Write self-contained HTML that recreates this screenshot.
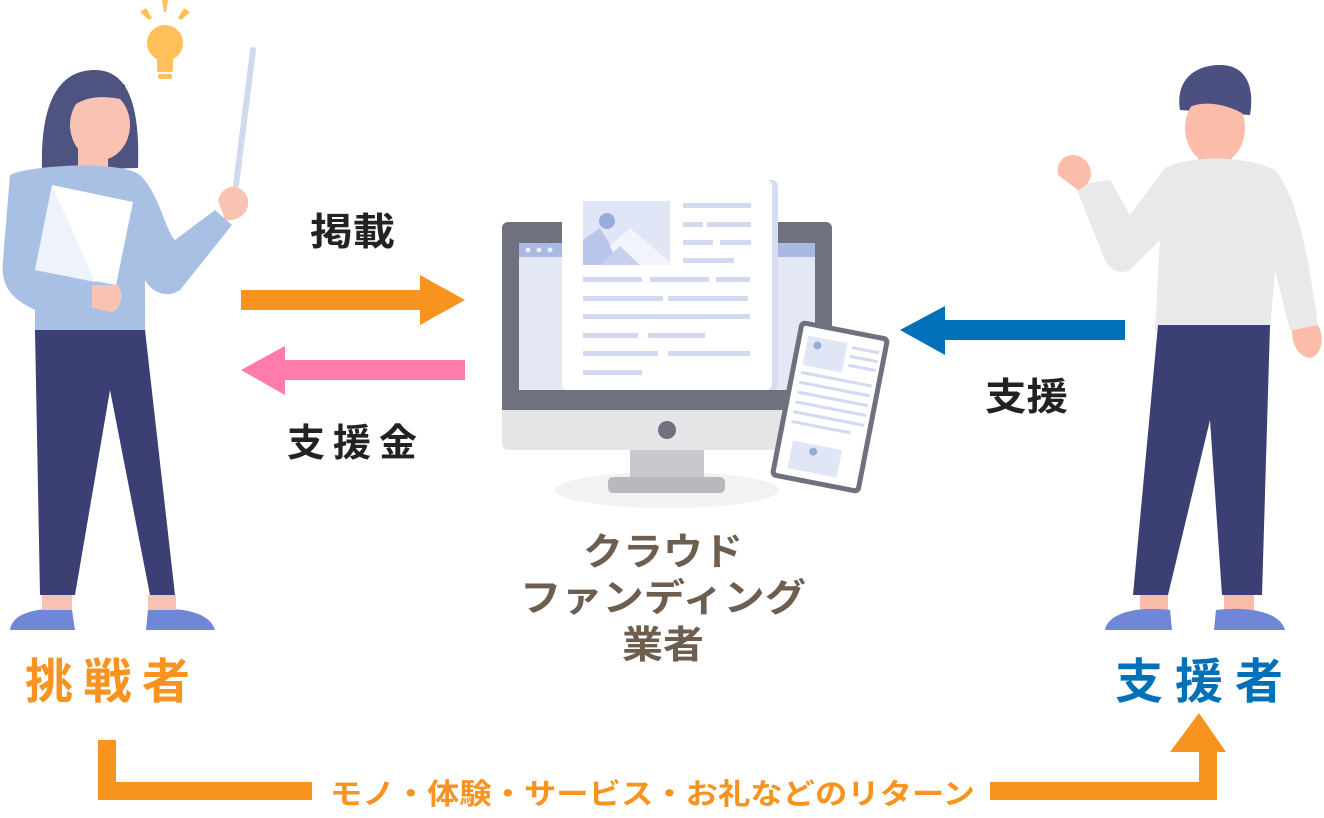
<!DOCTYPE html>
<html><head><meta charset="utf-8"><style>
html,body{margin:0;padding:0;background:#fff}
svg{display:block}
text{font-family:"Liberation Sans","Noto Sans CJK JP",sans-serif;font-weight:bold}
</style></head><body>
<svg width="1324" height="818" viewBox="0 0 1324 818" xmlns="http://www.w3.org/2000/svg">
<!-- bulb -->
<g fill="#ffbf5a">
<circle cx="165" cy="43" r="18"/><rect x="157" y="50" width="16" height="20"/>
<rect x="157" y="67" width="16" height="5" rx="2"/><rect x="158" y="74" width="14" height="5" rx="2"/>
<polygon points="162,0 168,0 166,12 164,12"/><polygon points="140,12 146,8 152,18 149,20"/><polygon points="184,8 190,12 181,20 178,18"/>
</g>
<!-- woman -->
<line x1="253" y1="50" x2="236" y2="185" stroke="#d0d9ee" stroke-width="6" stroke-linecap="round"/>
<path d="M42,170 C40,100 60,70 95,70 C130,70 140,110 138,168 Z" fill="#4f5380"/>
<ellipse cx="100" cy="125" rx="30" ry="35" fill="#f8c3b3"/>
<rect x="78" y="140" width="30" height="30" fill="#f8c3b3"/>
<path d="M68,112 C80,95 105,95 125,100 L125,85 C105,70 75,75 68,95 Z" fill="#4f5380"/>
<path d="M10,175 C30,165 120,160 140,175 C160,195 165,230 175,240 L215,210 L232,225 L180,290 C165,300 150,290 145,280 L145,330 L35,330 L35,310 C15,300 0,290 3,260 Z" fill="#a7c0e3"/>
<path d="M218,200 C225,180 245,185 248,200 C250,215 235,222 225,220 Z" fill="#f8c3b3"/>
<polygon points="52,185 133,202 116,285 35,270" fill="#fff"/>
<polygon points="52,185 95,282 35,270" fill="#edf2fb"/>
<path d="M92,285 L118,285 C125,295 120,312 110,312 L92,308 Z" fill="#f8c3b3"/>
<path d="M35,330 L145,330 L175,595 L150,595 L110,390 L75,595 L40,595 Z" fill="#3b3f73"/>
<path d="M10,630 C12,612 40,606 72,610 L75,630 Z" fill="#6f87d6"/>
<path d="M148,610 C180,606 210,612 215,630 L146,630 Z" fill="#6f87d6"/>
<rect x="42" y="595" width="30" height="15" fill="#f8c3b3"/><rect x="148" y="595" width="28" height="15" fill="#f8c3b3"/>
<!-- man -->
<path d="M1180,110 C1175,80 1195,65 1220,65 C1245,65 1255,85 1250,115 Z" fill="#4b5080"/>
<ellipse cx="1215" cy="128" rx="30" ry="36" fill="#fbbcaa"/>
<rect x="1198" y="145" width="34" height="20" fill="#fbbcaa"/>
<path d="M1185,110 C1200,98 1230,105 1245,115 L1250,95 C1235,78 1200,80 1185,95 Z" fill="#4b5080"/>
<path d="M1075,185 L1110,180 L1130,215 L1165,168 C1190,155 1245,155 1275,170 C1300,200 1310,270 1318,325 L1290,330 L1275,270 L1270,330 C1230,335 1190,335 1155,330 L1160,240 L1130,270 C1120,275 1110,270 1105,260 Z" fill="#e9e9eb"/>
<path d="M1058,175 C1055,155 1075,150 1085,160 C1095,170 1092,185 1078,190 Z" fill="#fbbcaa"/>
<path d="M1292,330 L1318,325 C1325,338 1322,355 1310,358 C1298,356 1292,345 1292,330 Z" fill="#fbbcaa"/>
<path d="M1158,325 L1270,325 L1262,595 L1222,595 L1210,420 L1168,595 L1133,595 Z" fill="#3b3f73"/>
<rect x="1140" y="595" width="28" height="15" fill="#fbbcaa"/><rect x="1224" y="595" width="30" height="15" fill="#fbbcaa"/>
<path d="M1105,630 C1108,612 1140,606 1170,610 L1172,630 Z" fill="#6f87d6"/>
<path d="M1216,610 C1250,606 1280,612 1285,630 L1214,630 Z" fill="#6f87d6"/>
<!-- monitor -->
<ellipse cx="667" cy="490" rx="112" ry="18" fill="#f2f2f3"/>
<rect x="630" y="446" width="74" height="33" fill="#c8c8cc"/>
<rect x="608" y="477" width="117" height="16" rx="5" fill="#b8b8bd"/>
<rect x="502" y="222" width="330" height="228" rx="6" fill="#e6e6e8"/>
<path d="M508,222 h318 a6,6 0 0 1 6,6 v182 h-330 v-182 a6,6 0 0 1 6,-6z" fill="#70717e"/>
<circle cx="667" cy="430" r="9" fill="#70717e"/>
<rect x="519" y="243" width="296" height="147" fill="#e4e8f5"/>
<rect x="519" y="243" width="296" height="14" fill="#aab8e4"/>
<g fill="#eef1fa"><circle cx="528" cy="250" r="2.5"/><circle cx="539" cy="250" r="2.5"/><circle cx="550" cy="250" r="2.5"/></g>
<rect x="566" y="180" width="212" height="210" rx="6" fill="#d6ddf3"/>
<rect x="562" y="180" width="210" height="210" rx="6" fill="#fff"/>
<rect x="583" y="201" width="87" height="64" fill="#e1e6f6"/>
<circle cx="607" cy="221" r="8" fill="#9aaadd"/>
<polygon points="583,265 583,240 600,228 622,265" fill="#b9c5ea"/>
<polygon points="610,246 630,228 670,262 670,265 618,265" fill="#f2f4fb"/>
<polygon points="600,265 620,246 640,265" fill="#c7d0ef"/>
<g fill="#d2d9f0">
<rect x="683" y="203" width="68" height="5"/><rect x="683" y="222" width="20" height="5"/><rect x="707" y="222" width="44" height="5"/>
<rect x="683" y="240" width="30" height="5"/><rect x="720" y="240" width="31" height="5"/><rect x="683" y="258" width="51" height="5"/>
<rect x="583" y="277" width="59" height="5"/><rect x="650" y="277" width="59" height="5"/><rect x="716" y="277" width="34" height="5"/>
<rect x="583" y="296" width="80" height="5"/><rect x="668" y="296" width="80" height="5"/>
<rect x="583" y="314" width="167" height="5"/>
<rect x="583" y="333" width="55" height="5"/><rect x="648" y="333" width="57" height="5"/>
<rect x="583" y="351" width="75" height="5"/><rect x="668" y="351" width="82" height="5"/>
<rect x="583" y="370" width="59" height="5"/>
</g>
<!-- tablet -->
<g transform="translate(830,407) rotate(11)">
<rect x="-46" y="-80" width="92" height="160" rx="6" fill="#70717e"/>
<rect x="-41" y="-75" width="82" height="150" rx="2" fill="#fff"/>
<rect x="-35" y="-66" width="40" height="30" fill="#e1e6f6"/>
<circle cx="-24" cy="-58" r="4" fill="#9aaadd"/>
<rect x="-30" y="40" width="50" height="28" fill="#e1e6f6"/>
<circle cx="-8" cy="47" r="4" fill="#9aaadd"/>
<g fill="#d2d9f0"><rect x="10" y="-64" width="28" height="3"/><rect x="10" y="-55" width="28" height="3"/><rect x="10" y="-46" width="28" height="3"/>
<rect x="-35" y="-30" width="72" height="3"/><rect x="-35" y="-20" width="72" height="3"/><rect x="-35" y="-10" width="72" height="3"/><rect x="-35" y="0" width="72" height="3"/><rect x="-35" y="10" width="72" height="3"/><rect x="-35" y="20" width="60" height="3"/></g>
</g>
<!-- arrows -->
<polygon points="241,290 420,290 420,275 465,300 420,325 420,310 241,310" fill="#f7931e"/>
<polygon points="465,360 285,360 285,346 241,370 285,395 285,380 465,380" fill="#ff7bac"/>
<polygon points="1125,320 945,320 945,306 900,330 945,355 945,340 1125,340" fill="#0070b9"/>
<text x="310" y="245" font-size="38" textLength="85" lengthAdjust="spacingAndGlyphs" fill="#222">掲載</text>
<text x="287" y="456" font-size="38" textLength="130" lengthAdjust="spacing" fill="#222">支援金</text>
<text x="985" y="410" font-size="38" textLength="83" lengthAdjust="spacingAndGlyphs" fill="#222">支援</text>
<g fill="#6e5e50" font-size="38">
<text x="583" y="565" textLength="160" lengthAdjust="spacingAndGlyphs">クラウド</text>
<text x="520" y="611" textLength="286" lengthAdjust="spacingAndGlyphs">ファンディング</text>
<text x="622" y="658" textLength="82" lengthAdjust="spacingAndGlyphs">業者</text>
</g>
<text x="25" y="698" font-size="48" textLength="165" lengthAdjust="spacing" fill="#f7931e">挑戦者</text>
<text x="1115" y="698" font-size="48" textLength="168" lengthAdjust="spacing" fill="#0070b9">支援者</text>
<!-- bottom connector -->
<path d="M107,740 V791 H312" fill="none" stroke="#f7931e" stroke-width="18"/>
<path d="M990,791 H1208 V745" fill="none" stroke="#f7931e" stroke-width="18"/>
<polygon points="1170,752 1199,713 1226,752" fill="#f7931e"/>
<text x="330" y="804" font-size="29" textLength="645" lengthAdjust="spacingAndGlyphs" fill="#f7931e">モノ・体験・サービス・お礼などのリターン</text>
</svg>
</body></html>
